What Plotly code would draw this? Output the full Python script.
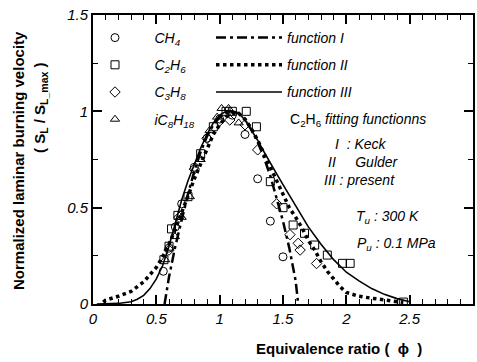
import plotly.graph_objects as go

# ---- data ----
phi_f1 = [0.565, 0.6, 0.65, 0.7, 0.75, 0.8, 0.85, 0.9, 0.95, 1.0, 1.05, 1.1, 1.15, 1.2, 1.25,
          1.3, 1.35, 1.4, 1.45, 1.5, 1.55, 1.6, 1.62]
s_f1 = [0.0, 0.14, 0.30, 0.44, 0.57, 0.69, 0.79, 0.87, 0.93, 0.97, 0.99, 1.0, 0.99, 0.955, 0.905,
        0.84, 0.76, 0.665, 0.55, 0.43, 0.29, 0.12, 0.0]

phi_f2 = [0.08, 0.1, 0.2, 0.3, 0.4, 0.5, 0.55, 0.6, 0.65, 0.7, 0.75, 0.8, 0.85, 0.9, 0.95, 1.0,
          1.05, 1.1, 1.15, 1.2, 1.25, 1.3, 1.35, 1.4, 1.45, 1.5, 1.55, 1.6, 1.65, 1.7, 1.75, 1.8,
          1.85, 1.9, 1.95, 2.0, 2.1, 2.2, 2.3, 2.4, 2.45]
s_f2 = [0.01, 0.02, 0.04, 0.065, 0.115, 0.19, 0.245, 0.31, 0.39, 0.47, 0.56, 0.65, 0.73, 0.81,
        0.88, 0.93, 0.97, 0.99, 0.99, 0.96, 0.91, 0.85, 0.78, 0.70, 0.63, 0.56, 0.50, 0.45, 0.395,
        0.33, 0.28, 0.22, 0.17, 0.13, 0.09, 0.06, 0.04, 0.03, 0.02, 0.012, 0.008]

phi_f3 = [0.03, 0.1, 0.2, 0.3, 0.35, 0.4, 0.45, 0.5, 0.55, 0.6, 0.65, 0.7, 0.75, 0.8, 0.85, 0.9,
          0.95, 1.0, 1.05, 1.1, 1.15, 1.2, 1.25, 1.3, 1.35, 1.4, 1.45, 1.5, 1.55, 1.6, 1.65, 1.7,
          1.8, 1.9, 2.0, 2.1, 2.2, 2.3, 2.4, 2.5]
s_f3 = [0.0, 0.0, 0.003, 0.012, 0.025, 0.045, 0.08, 0.13, 0.2, 0.30, 0.42, 0.54, 0.64, 0.73, 0.81,
        0.88, 0.94, 0.98, 1.0, 1.0, 0.99, 0.955, 0.905, 0.85, 0.79, 0.73, 0.675, 0.62, 0.565, 0.51,
        0.455, 0.40, 0.31, 0.23, 0.165, 0.12, 0.08, 0.05, 0.028, 0.012]

phi_ch4 = [0.555, 0.6, 0.65, 0.7, 0.8, 0.9, 1.0, 1.1, 1.2, 1.3, 1.4, 1.5]
s_ch4 = [0.17, 0.29, 0.40, 0.52, 0.71, 0.86, 0.96, 0.98, 0.88, 0.65, 0.43, 0.245]

phi_c2h6 = [0.56, 0.6, 0.62, 0.67, 0.75, 0.85, 0.95, 1.05, 1.1, 1.21, 1.29, 1.4, 1.5, 1.58,
            1.67, 1.75, 1.85, 1.97, 2.03, 2.45]
s_c2h6 = [0.23, 0.3, 0.39, 0.46, 0.557, 0.78, 0.92, 1.0, 1.0, 1.0, 0.92, 0.635, 0.50, 0.41,
          0.367, 0.306, 0.254, 0.211, 0.211, 0.01]

phi_c3h8 = [0.6, 0.68, 0.8, 0.9, 1.0, 1.08, 1.2, 1.3, 1.45, 1.555, 1.62, 1.635, 1.765]
s_c3h8 = [0.28, 0.45, 0.70, 0.86, 0.95, 0.955, 0.93, 0.80, 0.52, 0.36, 0.315, 0.28, 0.21]

phi_ic8 = [0.57, 0.647, 0.7, 0.765, 0.85, 0.92, 0.98, 1.015, 1.07, 1.15]
s_ic8 = [0.23, 0.35, 0.45, 0.557, 0.75, 0.90, 0.97, 1.015, 1.015, 0.94]

x_ticks = [0, 0.5, 1, 1.5, 2, 2.5, 3]
x_ticklabels = ["0", "0.5", "1", "1.5", "2", "2.5", "3"]
y_ticks = [0, 0.5, 1, 1.5]
y_ticklabels = ["0", "0.5", "1", "1.5"]

FONT = "Liberation Sans, Arial, sans-serif"
PAD = "\u00a0" * 5

fig = go.Figure()

# marker series (legend 1)
for name, xs, ys, sym in [
    (PAD + "<i>CH<sub>4</sub></i>", phi_ch4, s_ch4, "circle-open"),
    (PAD + "<i>C<sub>2</sub>H<sub>6</sub></i>", phi_c2h6, s_c2h6, "square-open"),
    (PAD + "<i>C<sub>3</sub>H<sub>8</sub></i>", phi_c3h8, s_c3h8, "diamond-open"),
    (PAD + "<i>iC<sub>8</sub>H<sub>18</sub></i>", phi_ic8, s_ic8, "triangle-up-open"),
]:
    fig.add_trace(go.Scatter(x=xs, y=ys, mode="markers", name=name,
                             marker=dict(symbol=sym, size=8, color="black", line=dict(width=1)),
                             legend="legend", legendgroup=name))

# fitting functions (legend 2)
fig.add_trace(go.Scatter(x=phi_f1, y=s_f1, mode="lines", name="<i>function I</i>",
                         line=dict(color="black", width=2.5, dash="10px,4px,3px,4px"),
                         legend="legend2", legendgroup="f1"))
fig.add_trace(go.Scatter(x=phi_f2, y=s_f2, mode="lines", name="<i>function II</i>",
                         line=dict(color="black", width=3.5, dash="dot"),
                         legend="legend2", legendgroup="f2"))
fig.add_trace(go.Scatter(x=phi_f3, y=s_f3, mode="lines", name="<i>function III</i>",
                         line=dict(color="black", width=1.6),
                         legend="legend2", legendgroup="f3"))

PX0, PX1, PY0, PY1 = 93, 473, 15, 304
W, H = PX1 - PX0, PY1 - PY0
def px(x):
    return (x - PX0) / W
def py(y):
    return (PY1 - y) / H

tickfont = dict(family=FONT, size=15, color="black")

fig.update_xaxes(range=[0, 3], tickvals=x_ticks, ticktext=["<i>%s</i>" % t for t in x_ticklabels],
                 tickfont=tickfont, showline=True, linecolor="black", linewidth=2, mirror="ticks",
                 ticks="inside", ticklen=9, tickwidth=1.5, tickcolor="black",
                 showgrid=False, zeroline=False,
                 minor=dict(dtick=0.1, tick0=0, ticks="inside", ticklen=5, tickcolor="black",
                            tickwidth=1))
fig.update_yaxes(range=[0, 1.5], tickvals=y_ticks, ticktext=["<i>%s</i>" % t for t in y_ticklabels],
                 tickfont=tickfont, showline=True, linecolor="black", linewidth=2, mirror="ticks",
                 ticks="inside", ticklen=9, tickwidth=1.5, tickcolor="black",
                 showgrid=False, zeroline=False,
                 minor=dict(dtick=0.25, tick0=0, ticks="inside", ticklen=5, tickcolor="black",
                            tickwidth=1))

legfont = dict(family=FONT, size=14, color="black")
ann_font = dict(family=FONT, size=14, color="black")

def note(text, x, y, xanchor="left", angle=0, font=ann_font):
    return dict(text=text, x=px(x), y=py(y), xref="paper", yref="paper", xanchor=xanchor,
                yanchor="middle", showarrow=False, textangle=angle, font=font)

bold15 = dict(family=FONT, size=15, color="black")
annotations = [
    note("<b>Equivalence ratio (  ϕ  )</b>", 339, 348, "center", font=bold15),
    note("<b>Normalized laminar burning velocity</b>", 18, 161, "center", -90, bold15),
    note("<b>( S<sub>L</sub> / S<sub>L_max</sub> )</b>", 40, 108, "center", -90, bold15),
    note("C<sub>2</sub>H<sub>6</sub> <i>fitting functionns</i>", 288, 120),
    note("<i>I  : Keck</i>", 333, 144),
    note("<i>II     Gulder</i>", 326, 162),
    note("<i>III : present</i>", 322, 180),
    note("<i>T<sub>u</sub> : 300 K</i>", 354, 217),
    note("<i>P<sub>u</sub> : 0.1 MPa</i>", 355, 244),
]

fig.update_layout(
    width=477, height=362,
    margin=dict(l=PX0, r=477 - PX1, t=PY0, b=362 - PY1, autoexpand=False),
    paper_bgcolor="white", plot_bgcolor="white",
    font=dict(family=FONT, color="black"),
    annotations=annotations,
    # both legends kept inside the plot area (no margin pushing / redraw)
    legend=dict(x=px(95), y=py(22), xanchor="left", yanchor="top", bgcolor="rgba(0,0,0,0)",
                font=legfont, itemwidth=30, tracegroupgap=6, traceorder="grouped"),
    legend2=dict(x=px(211), y=py(22), xanchor="left", yanchor="top", bgcolor="rgba(0,0,0,0)",
                 font=legfont, itemwidth=66, tracegroupgap=6, traceorder="grouped"),
)

fig.write_html("out.html")
